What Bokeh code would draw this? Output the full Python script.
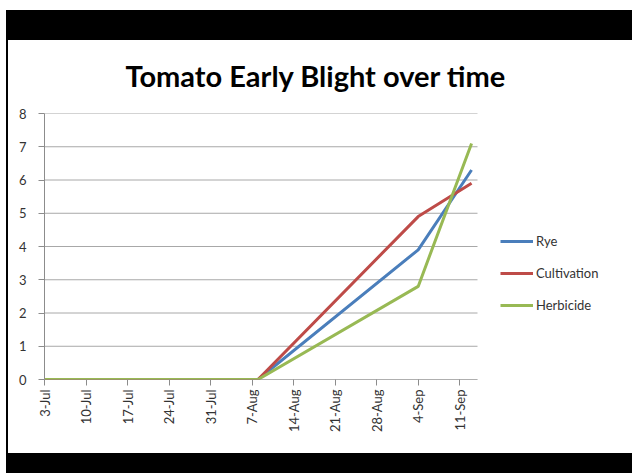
import pandas as pd
from bokeh.plotting import figure
from bokeh.models import Legend, LegendItem, FixedTicker, Range1d, Div, Spacer, Title
from bokeh.layouts import column, row
from bokeh.embed import file_html
from bokeh.resources import INLINE

chart_title = "Tomato Early Blight over time"

dates = ["2012-07-03", "2012-07-10", "2012-07-17", "2012-07-24", "2012-07-31",
         "2012-08-08", "2012-09-04", "2012-09-13"]
rye = [0, 0, 0, 0, 0, 0, 3.9, 6.3]
cultivation = [0, 0, 0, 0, 0, 0, 4.9, 5.9]
herbicide = [0, 0, 0, 0, 0, 0, 2.8, 7.1]

series_names = ["Rye", "Cultivation", "Herbicide"]
series_colors = ["#4a7ebb", "#be4b48", "#98b954"]

tick_dates = ["2012-07-03", "2012-07-10", "2012-07-17", "2012-07-24", "2012-07-31",
              "2012-08-07", "2012-08-14", "2012-08-21", "2012-08-28", "2012-09-04",
              "2012-09-11"]
tick_labels = ["3-Jul", "10-Jul", "17-Jul", "24-Jul", "31-Jul", "7-Aug", "14-Aug",
               "21-Aug", "28-Aug", "4-Sep", "11-Sep"]
y_ticks = [0, 1, 2, 3, 4, 5, 6, 7, 8]
x_end_date = "2012-09-14"

base = pd.Timestamp(dates[0])
def day(d):
    return (pd.Timestamp(d) - base).days

xs = [day(d) for d in dates]
tx = [day(d) for d in tick_dates]
x_end = day(x_end_date)

fig_w, fig_h = 624, 413
mb_left, mb_right = 36, 10
# the date axis occupies 433 px of the frame; the rest of the frame holds the legend
axis_px = 433
frame_px = fig_w - mb_left - mb_right
view_end = x_end * frame_px / axis_px

p = figure(width=fig_w, height=fig_h, output_backend="svg", toolbar_location=None,
           x_range=Range1d(0, view_end), y_range=Range1d(0, 8),
           min_border_left=mb_left, min_border_top=73, min_border_bottom=74,
           min_border_right=mb_right)
p.outline_line_color = None
p.background_fill_color = "white"
p.border_fill_color = "white"

# blank gap between the title and the plot area
p.add_layout(Title(text=" ", text_font_size="10px", standoff=6), "above")

p.title.text = chart_title
p.title.text_font = "Lato"
p.title.text_font_size = "29px"
p.title.text_font_style = "bold"
p.title.text_color = "black"
p.title.align = "left"
p.title.offset = 81
p.title.standoff = 4

p.xgrid.visible = False
p.ygrid.visible = False
p.segment(x0=[0] * len(y_ticks), x1=[x_end] * len(y_ticks), y0=y_ticks, y1=y_ticks,
          line_color="#a8a8a8", line_width=1)
p.segment(x0=[0], x1=[x_end], y0=[0], y1=[0], line_color="#8c8c8c", line_width=1)

for ax in (p.xaxis[0], p.yaxis[0]):
    ax.axis_line_color = "#8c8c8c"
    ax.major_tick_line_color = "#8c8c8c"
    ax.minor_tick_line_color = None
    ax.major_tick_in = 0
    ax.major_tick_out = 6
    ax.major_label_text_font = "Lato"
    ax.major_label_text_font_size = "13px"
    ax.major_label_text_color = "#333333"

p.xaxis.axis_line_color = None
p.xaxis.ticker = FixedTicker(ticks=tx)
p.xaxis.major_label_overrides = {t: l for t, l in zip(tx, tick_labels)}
p.xaxis.major_label_orientation = 1.5707963
p.xaxis.major_label_standoff = 4
p.yaxis.ticker = FixedTicker(ticks=y_ticks)
p.yaxis.major_label_standoff = 12

renderers = []
for vals, color in zip([rye, cultivation, herbicide], series_colors):
    r = p.line(xs, vals, line_color=color, line_width=3)
    renderers.append(r)

legend = Legend(items=[LegendItem(label=n, renderers=[r]) for n, r in zip(series_names, renderers)],
                location=(456, 64), glyph_width=33, glyph_height=20,
                label_height=20, label_standoff=3, spacing=12, padding=0,
                border_line_color=None, background_fill_alpha=0,
                label_text_font="Lato", label_text_font_size="13px",
                label_text_color="#333333")
p.add_layout(legend)

black = {"background-color": "black"}
top = Div(text="", width=fig_w + 2, height=30, styles=black, margin=0)
left = Div(text="", width=2, height=fig_h, styles=black, margin=0)
bottom = Div(text="", width=fig_w + 2, height=20, styles=black, margin=0)
mid = row(left, p, spacing=0, styles={"background-color": "white"})
inner = column(top, mid, bottom, spacing=0)
page = column(Spacer(height=10, width=fig_w + 8, margin=0),
              row(Spacer(width=6, height=463, margin=0), inner, spacing=0), spacing=0)

open("out.html", "w").write(file_html(page, INLINE))
